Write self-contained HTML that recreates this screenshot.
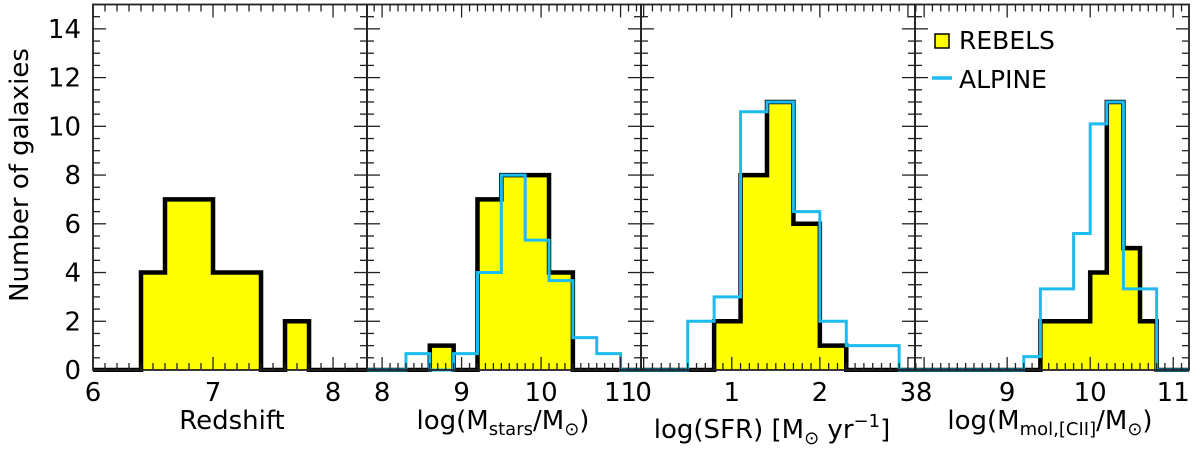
<!DOCTYPE html>
<html><head><meta charset="utf-8"><style>
html,body{margin:0;padding:0;background:#fff;}
svg{display:block;font-family:"DejaVu Sans","Liberation Sans",sans-serif;}
</style></head><body>
<svg id="chart" width="1200" height="450" viewBox="0 0 1200 450" xmlns="http://www.w3.org/2000/svg"></svg>
<script>
// Panel 1: redshift
const zEdges = [6.4, 6.6, 6.8, 7.0, 7.2, 7.4, 7.6, 7.8];
const zRebels = [4, 7, 7, 4, 4, 0, 2];
const zTicks = [6, 7, 8];
// Panel 2: stellar mass
const mEdges = [8.3, 8.6, 8.9, 9.2, 9.5, 9.8, 10.1, 10.4, 10.7, 11.0];
const mRebels = [0, 1, 0, 7, 8, 8, 4, 0, 0];
const mAlpine = [0.67, 0, 0.67, 4, 8, 5.33, 3.67, 1.33, 0.67];
const mTicks = [8, 9, 10, 11];
// Panel 3: SFR
const sEdges = [0.5, 0.8, 1.1, 1.4, 1.7, 2.0, 2.3, 2.6, 2.9];
const sRebels = [0, 2, 8, 11, 6, 1, 0, 0];
const sAlpine = [2, 3, 10.6, 11, 6.5, 2, 1, 1];
const sTicks = [0, 1, 2, 3];
// Panel 4: molecular gas mass
const gEdges = [9.2, 9.4, 9.6, 9.8, 10.0, 10.2, 10.4, 10.6, 10.8];
const gRebels = [0, 2, 2, 2, 4, 11, 5, 2];
const gAlpine = [0.55, 3.33, 3.33, 5.6, 10.1, 11, 3.33, 3.33];
const gTicks = [8, 9, 10, 11];
const yTicks = [0, 2, 4, 6, 8, 10, 12, 14];

const NS = "http://www.w3.org/2000/svg";
const svg = document.getElementById('chart');
const Y0 = 370, YTOP = 4.5, YMAX = 15;
const yS = v => Y0 - v * (Y0 - YTOP) / YMAX;
function mk(tag, attrs, parent) {
  const e = document.createElementNS(NS, tag);
  for (const k in attrs) e.setAttribute(k, attrs[k]);
  (parent || svg).appendChild(e);
  return e;
}
const panels = [
  {x0: 93, x1: 367, d0: 6, d1: 8.283, edges: zEdges, reb: zRebels, alp: null, ticks: zTicks, minor: 0.1, name: 'redshift'},
  {x0: 367, x1: 641, d0: 7.81, d1: 11.257, edges: mEdges, reb: mRebels, alp: mAlpine, ticks: mTicks, minor: 0.1, name: 'stellar-mass'},
  {x0: 641, x1: 915, d0: -0.03, d1: 3.08, edges: sEdges, reb: sRebels, alp: sAlpine, ticks: sTicks, minor: 0.1, name: 'sfr'},
  {x0: 915, x1: 1189, d0: 7.89, d1: 11.19, edges: gEdges, reb: gRebels, alp: gAlpine, ticks: gTicks, minor: 0.1, name: 'mol-gas-mass'}
];
function stepPath(xs, p, edges, vals, close) {
  let d = 'M' + p.x0 + ',' + Y0 + ' L' + xs(edges[0]) + ',' + Y0;
  for (let i = 0; i < vals.length; i++) {
    d += ' L' + xs(edges[i]) + ',' + yS(vals[i]) + ' L' + xs(edges[i + 1]) + ',' + yS(vals[i]);
  }
  d += ' L' + xs(edges[edges.length - 1]) + ',' + Y0;
  if (!close) d += ' L' + p.x1 + ',' + Y0;
  return d;
}
panels.forEach((p, pi) => {
  const xs = v => p.x0 + (v - p.d0) * (p.x1 - p.x0) / (p.d1 - p.d0);
  const g = mk('g', {});
  
  
  const clip = mk('clipPath', {id: 'c' + pi}, g);
  mk('rect', {x: p.x0, y: 0, width: p.x1 - p.x0, height: Y0 + 2}, clip);
  const inner = mk('g', {'clip-path': 'url(#c' + pi + ')'}, g);
  const fill = mk('path', {d: stepPath(xs, p, p.edges, p.reb, true) + ' Z', fill: '#ffff00', stroke: 'none'}, inner);
  
  
  const reb = mk('path', {d: stepPath(xs, p, p.edges, p.reb, false), fill: 'none', stroke: '#000', 'stroke-width': 4.5, 'stroke-linejoin': 'miter'}, inner);
  
  
  if (p.alp) {
    const alp = mk('path', {d: stepPath(xs, p, p.edges, p.alp, false), fill: 'none', stroke: '#1cbcf0', 'stroke-width': 3}, inner);
    
    
  }
  for (let v = Math.ceil(p.d0 / p.minor) * p.minor; v <= p.d1 + 1e-9; v += p.minor) {
    const x = xs(v);
    const isMaj = Math.abs(v - Math.round(v)) < 1e-6;
    const L = isMaj ? 13 : 7;
    mk('line', {x1: x, x2: x, y1: Y0, y2: Y0 - L, stroke: '#222', 'stroke-width': 1.3}, g);
    mk('line', {x1: x, x2: x, y1: YTOP, y2: YTOP + L, stroke: '#222', 'stroke-width': 1.3}, g);
  }
  for (let v = 0; v <= 15; v += 0.5) {
    const y = yS(v);
    const L = (v % 2 === 0) ? 13 : 7;
    mk('line', {x1: p.x0, x2: p.x0 + L, y1: y, y2: y, stroke: '#222', 'stroke-width': 1.3}, g);
    mk('line', {x1: p.x1, x2: p.x1 - L, y1: y, y2: y, stroke: '#222', 'stroke-width': 1.3}, g);
  }
  mk('rect', {x: p.x0, y: YTOP, width: p.x1 - p.x0, height: Y0 - YTOP, fill: 'none', stroke: '#222', 'stroke-width': 1.8}, g);
  p.ticks.forEach(t => {
    const tx = mk('text', {x: xs(t), y: 401, 'font-size': 26, 'text-anchor': 'middle', fill: '#000'}, g);
    tx.textContent = t;
    
    
  });
});
yTicks.forEach(t => {
  const tx = mk('text', {x: 81, y: yS(t) + 9, 'font-size': 26, 'text-anchor': 'end', fill: '#000'});
  tx.textContent = t;
  
  
});
</script>
<svg style="position:absolute;left:0;top:0" width="1200" height="450">
  <text transform="translate(28,175) rotate(-90)" font-family="DejaVu Sans, Liberation Sans, sans-serif" font-size="26" text-anchor="middle">Number of galaxies</text>
  <text x="232" y="429" font-family="DejaVu Sans, Liberation Sans, sans-serif" font-size="26" text-anchor="middle">Redshift</text>
  <text x="503" y="429" font-family="DejaVu Sans, Liberation Sans, sans-serif" font-size="26" text-anchor="middle">log(M<tspan font-size="18" dy="6">stars</tspan><tspan dy="-6">/M</tspan><tspan font-size="18" dy="6">⊙</tspan><tspan dy="-6">)</tspan></text>
  <text x="772" y="438" font-family="DejaVu Sans, Liberation Sans, sans-serif" font-size="26" text-anchor="middle">log(SFR) [M<tspan font-size="18" dy="6">⊙</tspan><tspan dy="-6"> yr</tspan><tspan font-size="18" dy="-11">−1</tspan><tspan dy="11">]</tspan></text>
  <text x="1050" y="429" font-family="DejaVu Sans, Liberation Sans, sans-serif" font-size="26" text-anchor="middle">log(M<tspan font-size="18" dy="6">mol,[CII]</tspan><tspan dy="-6">/M</tspan><tspan font-size="18" dy="6">⊙</tspan><tspan dy="-6">)</tspan></text>
  <g>
    <rect x="935" y="34" width="14" height="14" fill="#ffff00" stroke="#000" stroke-width="1.5"/>
    <text x="959" y="49" font-family="DejaVu Sans, Liberation Sans, sans-serif" font-size="25">REBELS</text>
    <line x1="932" x2="952" y1="78" y2="78" stroke="#1cbcf0" stroke-width="3.5"/>
    <text x="959" y="88" font-family="DejaVu Sans, Liberation Sans, sans-serif" font-size="25">ALPINE</text>
  </g>
</svg>
</body></html>
